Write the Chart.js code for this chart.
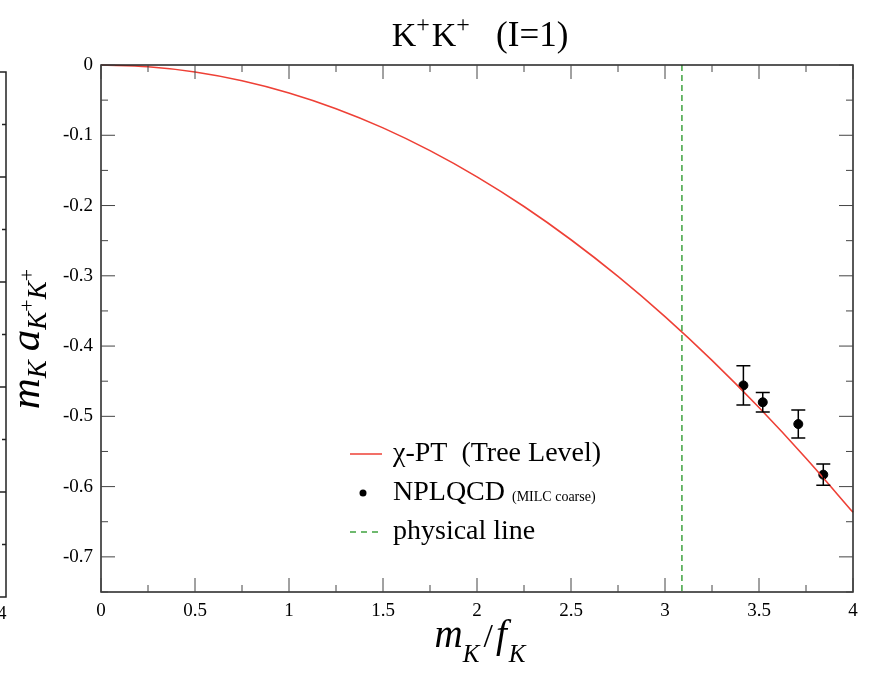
<!DOCTYPE html>
<html lang="en">
<head>
<meta charset="UTF-8">
<title>K+K+ (I=1)</title>
<style>
  html, body { margin: 0; padding: 0; background: #fff; }
  #wrap { width: 872px; height: 676px; }
</style>
</head>
<body>
<div id="wrap"><canvas id="chart" width="872" height="676"></canvas></div>
<script src="https://cdn.jsdelivr.net/npm/chart.js"></script>
<script>
// tree level chi-PT curve
var treeX = [0, 0.25, 0.5, 0.75, 1, 1.25, 1.5, 1.75, 2, 2.25, 2.5, 2.75, 3, 3.25, 3.5, 3.75, 4];
var treeY = [0, -0.0025, -0.0099, -0.0224, -0.0398, -0.0622, -0.0895, -0.1219, -0.1592,
             -0.2014, -0.2487, -0.3009, -0.3581, -0.4203, -0.4875, -0.5596, -0.6366];

// NPLQCD points (MILC coarse) with errors
var latX = [3.417, 3.520, 3.709, 3.842];
var latY = [-0.456, -0.480, -0.511, -0.583];
var latErr = [0.028, 0.014, 0.020, 0.015];

var physX = 3.09;

var xTicks = [0, 0.5, 1, 1.5, 2, 2.5, 3, 3.5, 4];
var yTicks = [0, -0.1, -0.2, -0.3, -0.4, -0.5, -0.6, -0.7];
var xMin = 0, xMax = 4, yMin = -0.75, yMax = 0;

var SERIF = '"Liberation Serif", "Times New Roman", serif';
var RED = '#ee4036', GREEN = '#3fa33f';

function zip(xs, ys) {
  return xs.map(function (x, i) { return { x: x, y: ys[i] }; });
}

// draw a run of text pieces, each with its own size / offset
function drawRich(ctx, parts, cx, cy) {
  var total = 0;
  parts.forEach(function (p) {
    ctx.font = (p.italic ? 'italic ' : '') + p.size + 'px ' + SERIF;
    p.w = ctx.measureText(p.t).width;
    total += p.w + (p.gap || 0);
  });
  var x = cx - total / 2;
  ctx.textAlign = 'left';
  ctx.textBaseline = 'alphabetic';
  parts.forEach(function (p) {
    ctx.font = (p.italic ? 'italic ' : '') + p.size + 'px ' + SERIF;
    ctx.fillText(p.t, x, cy + (p.dy || 0));
    x += p.w + (p.gap || 0);
  });
}

var decor = {
  id: 'decor',
  afterDatasetsDraw: function (chart) {
    var ctx = chart.ctx, a = chart.chartArea;
    var sx = chart.scales.x, sy = chart.scales.y;
    ctx.save();

    // error bars
    ctx.strokeStyle = '#000';
    ctx.lineWidth = 1.5;
    latX.forEach(function (x, i) {
      var px = sx.getPixelForValue(x);
      var top = sy.getPixelForValue(latY[i] + latErr[i]);
      var bot = sy.getPixelForValue(latY[i] - latErr[i]);
      ctx.beginPath();
      ctx.moveTo(px, top); ctx.lineTo(px, bot);
      ctx.moveTo(px - 7, top); ctx.lineTo(px + 7, top);
      ctx.moveTo(px - 7, bot); ctx.lineTo(px + 7, bot);
      ctx.stroke();
    });

    // frame
    ctx.lineWidth = 1.5;
    ctx.strokeStyle = '#222';
    ctx.strokeRect(a.left, a.top, a.right - a.left, a.bottom - a.top);

    // inward ticks on all sides
    ctx.lineWidth = 1;
    ctx.strokeStyle = '#444';
    ctx.beginPath();
    for (var v = xMin; v <= xMax + 1e-9; v += 0.25) {
      var px = sx.getPixelForValue(v);
      var len = Math.abs(v * 2 - Math.round(v * 2)) < 1e-6 ? 14 : 7;
      ctx.moveTo(px, a.bottom); ctx.lineTo(px, a.bottom - len);
      ctx.moveTo(px, a.top); ctx.lineTo(px, a.top + len);
    }
    for (var k = 0; k <= 15; k++) {
      var py = sy.getPixelForValue(-k * 0.05);
      var l2 = k % 2 === 0 ? 14 : 7;
      ctx.moveTo(a.left, py); ctx.lineTo(a.left + l2, py);
      ctx.moveTo(a.right, py); ctx.lineTo(a.right - l2, py);
    }
    ctx.stroke();

    // edge of the neighbouring panel
    ctx.lineWidth = 1.5;
    ctx.strokeStyle = '#222';
    ctx.beginPath();
    ctx.moveTo(0, 72); ctx.lineTo(6, 72); ctx.lineTo(6, 597); ctx.lineTo(0, 597);
    for (var t = 0; t < 11; t++) {
      var ty = 72 + t * 52.5;
      ctx.moveTo(6, ty); ctx.lineTo(t % 2 === 0 ? 0 : 2, ty);
    }
    ctx.stroke();
    ctx.fillStyle = '#000';
    ctx.font = '18px ' + SERIF;
    ctx.textAlign = 'center';
    ctx.textBaseline = 'middle';
    ctx.fillText('4', 2, 614);

    // legend
    var lx = 350, rows = [454, 493, 532];
    ctx.lineWidth = 1.5;
    ctx.strokeStyle = RED;
    ctx.beginPath(); ctx.moveTo(lx, rows[0]); ctx.lineTo(lx + 32, rows[0]); ctx.stroke();
    ctx.fillStyle = '#000';
    ctx.beginPath(); ctx.arc(lx + 13, rows[1], 3.5, 0, Math.PI * 2); ctx.fill();
    ctx.strokeStyle = GREEN;
    ctx.setLineDash([6, 5]);
    ctx.beginPath(); ctx.moveTo(lx, rows[2]); ctx.lineTo(lx + 32, rows[2]); ctx.stroke();
    ctx.setLineDash([]);

    var tx = lx + 43;
    ctx.textAlign = 'left';
    ctx.textBaseline = 'middle';
    ctx.font = '28px ' + SERIF;
    ctx.fillText('\u03c7-PT  (Tree Level)', tx, rows[0]);
    ctx.fillText('NPLQCD', tx, rows[1]);
    var nw = ctx.measureText('NPLQCD ').width;
    ctx.font = '14px ' + SERIF;
    ctx.fillText('(MILC coarse)', tx + nw, rows[1] + 4);
    ctx.font = '28px ' + SERIF;
    ctx.fillText('physical line', tx, rows[2]);

    // title
    drawRich(ctx, [
      { t: 'K', size: 34 }, { t: '+', size: 24, dy: -14, gap: 2 },
      { t: 'K', size: 34 }, { t: '+', size: 24, dy: -14 },
      { t: '   (I=1)', size: 35 }
    ], 480, 46);

    // x axis title
    drawRich(ctx, [
      { t: 'm', size: 39, italic: true }, { t: 'K', size: 25, italic: true, dy: 15, gap: 4 },
      { t: '/', size: 34, gap: 3 },
      { t: 'f', size: 39, italic: true, gap: 2 }, { t: 'K', size: 25, italic: true, dy: 15 }
    ], 480, 647);

    // y axis title
    ctx.translate(39, 339);
    ctx.rotate(-Math.PI / 2);
    drawRich(ctx, [
      { t: 'm', size: 43, italic: true }, { t: 'K', size: 27, italic: true, dy: 7, gap: 9 },
      { t: 'a', size: 43, italic: true }, { t: 'K', size: 27, italic: true, dy: 7 },
      { t: '+', size: 22, dy: -5 }, { t: 'K', size: 27, italic: true, dy: 7 },
      { t: '+', size: 22, dy: -5 }
    ], 0, 0);
    ctx.restore();
  }
};

new Chart(document.getElementById('chart'), {
  type: 'scatter',
  data: {
    datasets: [
      {
        label: 'chi-PT (Tree Level)',
        data: zip(treeX, treeY),
        showLine: true,
        borderColor: RED,
        borderWidth: 1.6,
        pointRadius: 0,
        cubicInterpolationMode: 'monotone'
      },
      {
        label: 'physical line',
        data: [{ x: physX, y: yMax }, { x: physX, y: yMin }],
        showLine: true,
        borderColor: GREEN,
        borderWidth: 1.5,
        borderDash: [6, 4],
        pointRadius: 0
      },
      {
        label: 'NPLQCD',
        data: zip(latX, latY),
        backgroundColor: '#000',
        borderColor: '#000',
        pointRadius: 4.5,
        pointStyle: 'circle'
      }
    ]
  },
  options: {
    responsive: false,
    animation: false,
    clip: false,
    layout: { padding: { top: 65, right: 19, left: 0, bottom: 0 } },
    plugins: { legend: { display: false }, tooltip: { enabled: false } },
    scales: {
      x: {
        type: 'linear', min: xMin, max: xMax,
        grid: { display: false },
        border: { display: false },
        afterBuildTicks: function (s) { s.ticks = xTicks.map(function (v) { return { value: v }; }); },
        afterFit: function (s) { s.height = 84; },
        ticks: {
          color: '#000', padding: 0,
          font: { family: SERIF, size: 19 },
          callback: function (v) { return String(v); }
        }
      },
      y: {
        type: 'linear', min: yMin, max: yMax,
        grid: { display: false },
        border: { display: false },
        afterBuildTicks: function (s) { s.ticks = yTicks.map(function (v) { return { value: v }; }); },
        afterFit: function (s) { s.width = 101; },
        ticks: {
          color: '#000', padding: 0,
          font: { family: SERIF, size: 19 },
          callback: function (v) { return String(v); }
        }
      }
    }
  },
  plugins: [decor]
});
</script>
</body>
</html>
